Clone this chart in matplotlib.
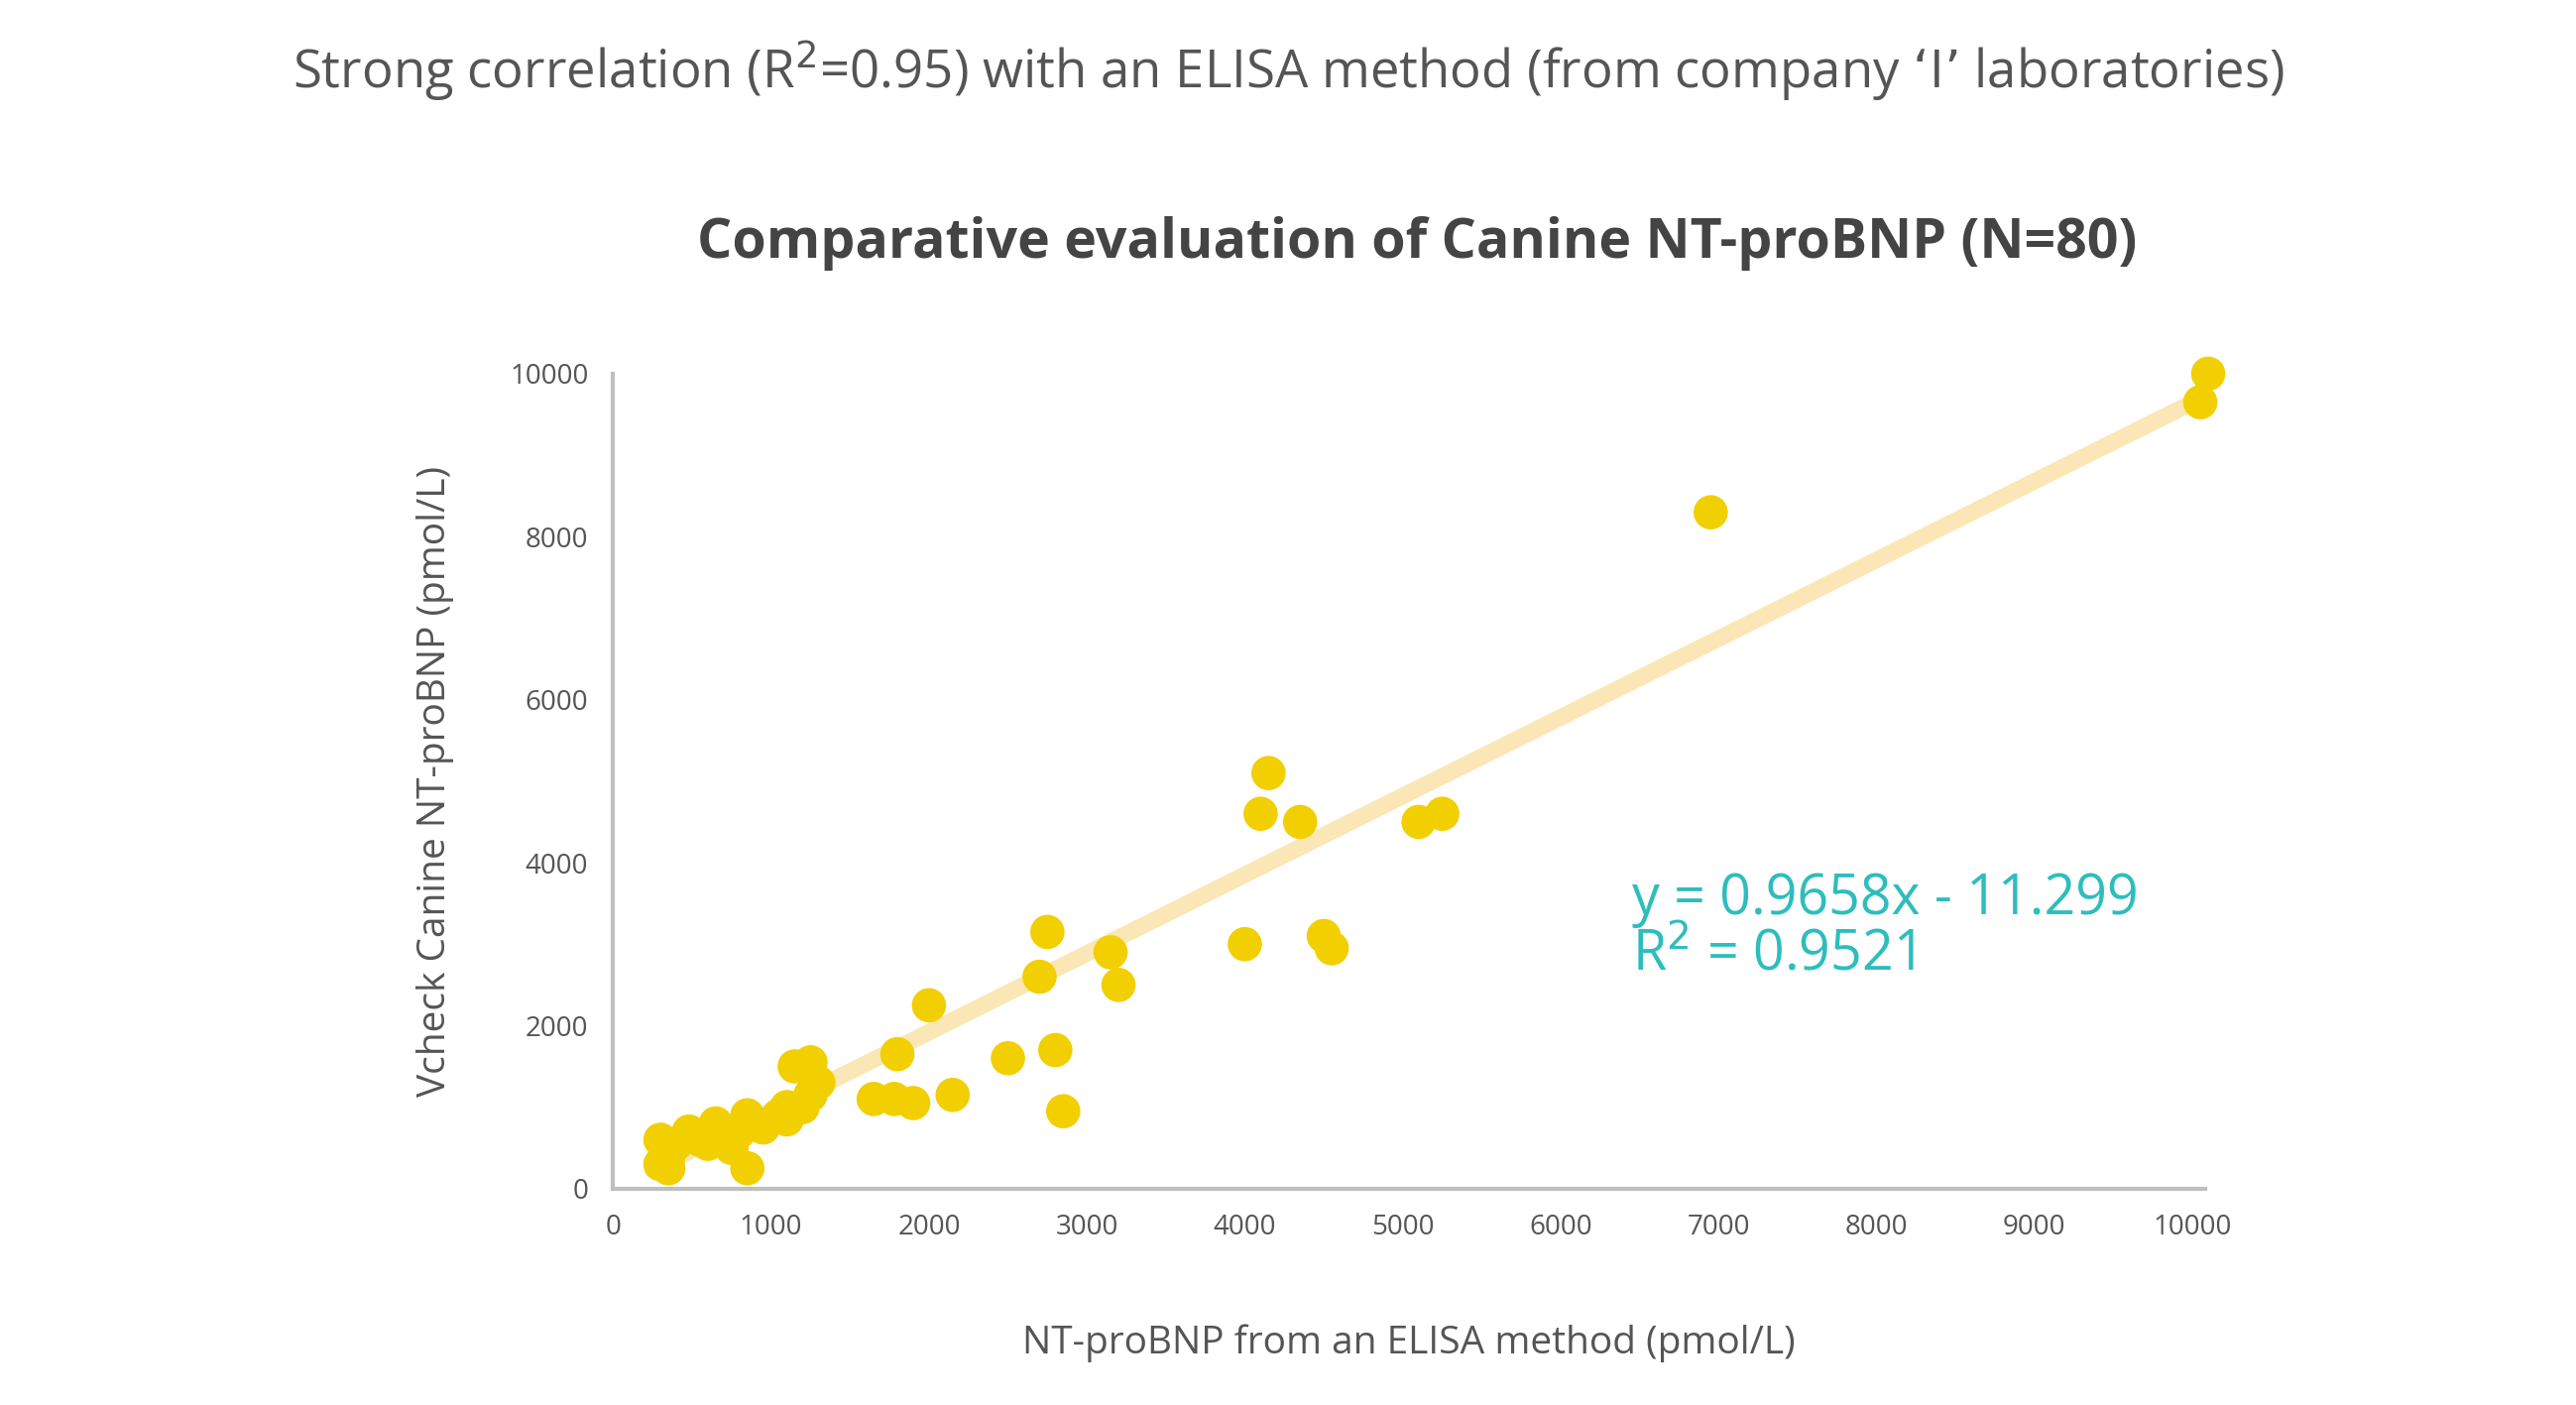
import numpy as np
import matplotlib
matplotlib.use('Agg')
import matplotlib.pyplot as plt

plt.rcParams['font.family'] = ['Open Sans', 'DejaVu Sans']

elisa = [300, 300, 350, 400, 480, 600, 650, 700, 800, 850, 850, 900, 1100, 1100, 1150, 1250,
         1200, 1300, 1650, 1780, 1900, 1800, 2000, 2150, 2500, 2700, 2750, 2800, 2850, 3150,
         3200, 4000, 4100, 4150, 4350, 4500, 4550, 5100, 5250, 6950, 10050, 10100,
         350, 550, 750, 950, 1050, 1250]
vcheck = [600, 300, 250, 550, 700, 550, 800, 600, 700, 900, 250, 800, 1000, 850, 1500, 1550,
          1000, 1300, 1100, 1100, 1050, 1650, 2250, 1150, 1600, 2600, 3150, 1700, 950, 2900,
          2500, 3000, 4600, 5100, 4500, 3100, 2950, 4500, 4600, 8300, 9650, 10000,
          400, 600, 500, 750, 900, 1150]
slope, icpt = 0.9658, -11.299

fig = plt.figure(figsize=(25.98, 14.17), dpi=100)
ax = fig.add_axes([0.238, 0.154, 0.618, 0.58])

xl = np.array([250, 10050])
ax.plot(xl, slope * xl + icpt, color='#fae7b5', lw=12, solid_capstyle='round', zorder=1)
ax.scatter(elisa, vcheck, s=620, color='#f2cf00', zorder=2, edgecolors='none', clip_on=False)

ax.set_xlim(0, 10080)
ax.set_ylim(0, 10000)
ax.set_xticks(range(0, 10001, 1000))
ax.set_yticks(range(0, 10001, 2000))
for s in ['top', 'right']:
    ax.spines[s].set_visible(False)
for s in ['left', 'bottom']:
    ax.spines[s].set_color('#bfbfbf')
    ax.spines[s].set_linewidth(3)
ax.tick_params(length=0, labelsize=20, colors='#555555', pad=18)

ax.set_xlabel('NT-proBNP from an ELISA method (pmol/L)', fontsize=28, color='#555555', labelpad=60)
ax.set_ylabel('Vcheck Canine NT-proBNP (pmol/L)', fontsize=28, color='#555555', labelpad=40)

ax.text(6450, 3200, 'y = 0.9658x - 11.299\nR$^2$ = 0.9521', fontsize=40, color='#2ebdbd',
        va='center', linespacing=1.0)

fig.text(0.5, 0.95, "Strong correlation (R$^2$=0.95) with an ELISA method (from company \u2018I\u2019 laboratories)",
         ha='center', va='center', fontsize=38, color='#555555')
fig.text(0.55, 0.827, 'Comparative evaluation of Canine NT-proBNP (N=80)', ha='center', va='center',
         fontsize=40, fontweight='bold', color='#444444')

fig.savefig('out.png', dpi=100)
